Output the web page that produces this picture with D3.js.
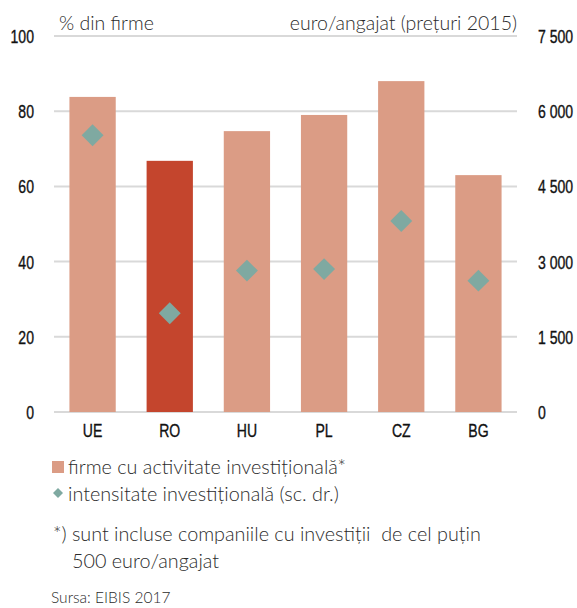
<!DOCTYPE html>
<html><head><meta charset="utf-8">
<script src="https://cdn.jsdelivr.net/npm/d3@7"></script>
<style>
body{margin:0;background:#fff;}
svg{display:block;}
.tick text{font-family:"Liberation Sans",Arial,sans-serif;font-size:18.5px;fill:#111;stroke:#111;stroke-width:0.35px;}
.txt{font-family:Lato,"Open Sans",sans-serif;font-weight:300;fill:#2b2b2b;white-space:pre;}
</style></head>
<body>
<svg id="c" width="577" height="608"></svg>
<script>
const categories = ["UE","RO","HU","PL","CZ","BG"];
const firmShare = [83.8, 66.8, 74.7, 79.0, 88.0, 63.0];
const intensity = [5520, 1970, 2820, 2850, 3810, 2620];
const leftTicks = [0,20,40,60,80,100];
const rightTicks = [0,1500,3000,4500,6000,7500];
const rightTickLabels = ["0","1 500","3 000","4 500","6 000","7 500"];
const highlight = "RO";

const svg = d3.select("#c");
const x0 = 54, x1 = 517, yTop = 36, yBot = 412;
const x = d3.scaleBand().domain(categories).range([x0,x1]).paddingInner(0.4).paddingOuter(0.2);
const yL = d3.scaleLinear().domain([0,100]).range([yBot,yTop]);
const yR = d3.scaleLinear().domain([0,7500]).range([yBot,yTop]);

// gridlines
svg.append("g").selectAll("line").data(leftTicks).join("line")
  .attr("x1",x0).attr("x2",x1).attr("y1",d=>yL(d)).attr("y2",d=>yL(d))
  .attr("stroke","#d9d9d9").attr("stroke-width",2);

const narrow = "scale(0.76,1)";

// left axis
const gl = svg.append("g").attr("transform",`translate(34,0)`)
  .call(d3.axisLeft(yL).tickValues(leftTicks).tickSize(0).tickPadding(0));
gl.select(".domain").remove();
gl.selectAll("text").attr("dy","0.35em").attr("transform",narrow);

// right axis
const gr = svg.append("g").attr("transform",`translate(538,0)`)
  .call(d3.axisRight(yR).tickValues(rightTicks).tickSize(0).tickPadding(0).tickFormat((d,i)=>rightTickLabels[i]));
gr.select(".domain").remove();
gr.selectAll("text").attr("dy","0.35em").attr("transform",narrow);

// bars
svg.append("g").selectAll("rect").data(categories).join("rect")
  .attr("x",d=>x(d)).attr("width",x.bandwidth())
  .attr("y",(d,i)=>yL(firmShare[i])).attr("height",(d,i)=>yBot-yL(firmShare[i]))
  .attr("fill",d=>d===highlight?"#c4452d":"#db9c85");

// diamonds
const dsym = d3.symbol().type(d3.symbolSquare).size(240);
svg.append("g").selectAll("path").data(categories).join("path")
  .attr("d",dsym)
  .attr("transform",(d,i)=>`translate(${x(d)+x.bandwidth()/2},${yR(intensity[i])}) rotate(45)`)
  .attr("fill","#7fa9a1");

// x axis labels
const gx = svg.append("g").attr("transform",`translate(0,${yBot})`)
  .call(d3.axisBottom(x).tickSize(0).tickPadding(12));
gx.select(".domain").remove();
gx.selectAll("text").attr("transform",narrow);

// unit titles
svg.append("text").attr("class","txt").attr("x",59).attr("y",30).attr("font-size",19.5).text("% din firme");
svg.append("text").attr("class","txt").attr("x",517).attr("y",30).attr("font-size",19.5).attr("text-anchor","end").text("euro/angajat (prețuri 2015)");

// legend
svg.append("rect").attr("x",52).attr("y",461).attr("width",12).attr("height",12).attr("fill","#db9c85");
svg.append("path").attr("d",d3.symbol().type(d3.symbolSquare).size(50)).attr("transform","translate(58,493) rotate(45)").attr("fill","#7fa9a1");
svg.append("text").attr("class","txt").attr("x",68).attr("y",474).attr("font-size",19.8).text("firme cu activitate investițională*");
svg.append("text").attr("class","txt").attr("x",68).attr("y",501).attr("font-size",19.8).text("intensitate investițională (sc. dr.)");

// footnote
svg.append("text").attr("class","txt").attr("x",53).attr("y",541).attr("font-size",19.8).text("*) sunt incluse companiile cu investiții  de cel puțin");
svg.append("text").attr("class","txt").attr("x",72).attr("y",568).attr("font-size",19.8).text("500 euro/angajat");
svg.append("text").attr("class","txt").attr("x",51).attr("y",603).attr("font-size",15.5).attr("fill","#555").text("Sursa: EIBIS 2017");
</script>
</body></html>
